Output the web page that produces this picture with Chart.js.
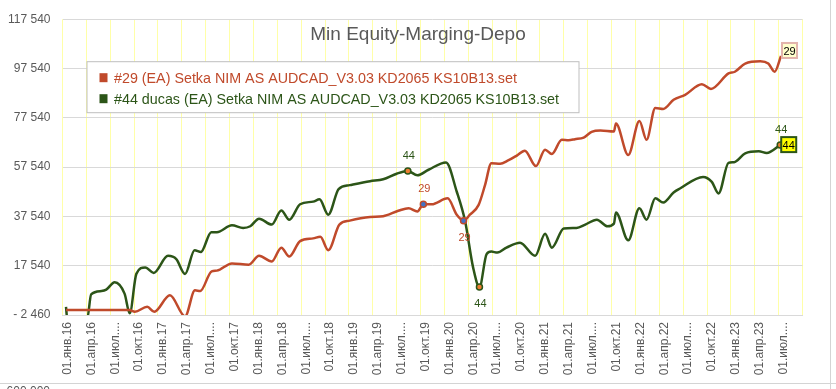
<!DOCTYPE html>
<html>
<head>
  <meta charset="utf-8" />
  <title>Min Equity-Marging-Depo</title>
  <script src="https://cdn.jsdelivr.net/npm/chart.js"></script>
  <style>body { margin: 0; background: #fff; }</style>
</head>
<body>
  <canvas id="equityChart" width="836" height="389"></canvas>
  <script>
    // x = месяцы от 01.янв.16, y = equity
    const months29 = [0.45, 8.4, 9.1, 10.65, 11.53, 13.5, 15.4, 16.65, 17.3, 18.75, 19.4, 21.3, 23.4, 24.7, 26.3,
      27.5, 28.5, 29.86, 31.5, 32.4, 33.4, 34.8, 36.1, 38.65, 40.3, 42.2, 43.5, 44.6, 45.35, 46.4, 48.4, 49.55,
      50.4, 51.2, 52.3, 53.1, 53.9, 55.0, 56.0, 57.1, 58.1, 59.5, 60.65, 61.5, 62.75, 63.6, 64.4, 65.5, 66.5,
      67.6, 69.3, 69.55, 71.1, 72.5, 73.4, 74.5, 75.5, 76.8, 78.25, 80.35, 81.5, 83.7, 84.5, 85.8, 87.7, 88.7,
      89.5, 90.3];
    const equity29 = [-460, -460, -1140, 860, -1140, 5540, -3000, 7540, 7260, 15260, 15540, 18460, 17940, 21540, 19260,
      24860, 21260, 27540, 28620, 29260, 23820, 34220, 35820, 37260, 37600, 39820, 40860, 39540, 42460, 42460, 44860, 38220,
      35820, 38220, 42220, 50220, 59140, 58860, 60220, 62220, 64220, 57940, 64620, 62860, 68620, 68460, 68860, 69540, 71820,
      72340, 71940, 75260, 62460, 76220, 68620, 81540, 81140, 84860, 86860, 91140, 89260, 95540, 96220, 99540, 100460, 99540,
      96220, 102620];

    const months44 = [0.44, 0.6, 3.1, 3.6, 4.9, 5.5, 6.56, 7.8, 8.45, 9.28, 10.4, 11.46, 13.26, 14.3, 15.4, 16.6, 17.4,
      18.7, 19.4, 21.3, 22.7, 23.6, 24.7, 26.3, 27.5, 28.5, 29.86, 31.5, 32.3, 33.4, 34.7, 36.1, 38.65, 40.3, 42.0,
      43.4, 44.6, 46.0, 48.2, 49.55, 50.6, 51.6, 52.4, 53.3, 53.9, 54.65, 55.8, 57.5, 59.4, 60.65, 61.5, 63.0, 64.6,
      65.7, 67.15, 68.5, 69.3, 69.55, 71.1, 72.5, 73.4, 74.5, 75.5, 76.8, 77.6, 80.5, 81.6, 82.45, 83.7, 84.4, 85.8,
      87.5, 88.5, 90.2];
    const equity44 = [860, -4000, -4000, 5940, 7260, 7820, 10860, 6220, -1780, 14220, 16860, 14620, 21540, 20220, 14220,
      23820, 23140, 31140, 31140, 33940, 32860, 33540, 36620, 34220, 39940, 36220, 42460, 43540, 44460, 38220, 48620, 50220,
      51820, 52620, 54860, 55940, 54220, 56460, 59420, 47540, 35540, 16860, 8860, 22220, 23260, 22860, 24860, 26860, 21540,
      30460, 24860, 32620, 32860, 34220, 36220, 33540, 34620, 39140, 27820, 40860, 36220, 44860, 43140, 47260, 48860, 53540,
      51540, 46860, 59260, 59540, 63140, 63940, 63260, 66460];

    const seriesNames = [
      '#29 (EA) Setka NIM AS AUDCAD_V3.03 KD2065 KS10B13.set',
      '#44 ducas (EA) Setka NIM AS AUDCAD_V3.03 KD2065 KS10B13.set'
    ];

    const xTickLabels = [
      '01.янв.16', '01.апр.16', '01.июл....', '01.окт.16',
      '01.янв.17', '01.апр.17', '01.июл....', '01.окт.17',
      '01.янв.18', '01.апр.18', '01.июл....', '01.окт.18',
      '01.янв.19', '01.апр.19', '01.июл....', '01.окт.19',
      '01.янв.20', '01.апр.20', '01.июл....', '01.окт.20',
      '01.янв.21', '01.апр.21', '01.июл....', '01.окт.21',
      '01.янв.22', '01.апр.22', '01.июл....', '01.окт.22',
      '01.янв.23', '01.апр.23', '01.июл....'
    ];
    const yTicks = [-2460, 17540, 37540, 57540, 77540, 97540, 117540];

    // отмеченные точки (мин / макс / последняя)
    const marked29 = [45.35, 50.4];
    const marked44 = [43.4, 52.4, 90.2];

    const RED = '#C04A2B';
    const GREEN = '#2C5518';
    const GREY = '#595959';

    const notes = [
      { ds: 0, month: 45.35, text: '29', place: 'above' },
      { ds: 0, month: 50.4, text: '29', place: 'below' },
      { ds: 0, month: 90.3, text: '29', place: 'boxUp' },
      { ds: 1, month: 43.4, text: '44', place: 'above' },
      { ds: 1, month: 52.4, text: '44', place: 'below' },
      { ds: 1, month: 90.2, text: '44', place: 'above' },
      { ds: 1, month: 90.2, text: '44', place: 'box' }
    ];

    function fmt(v) {
      const s = Math.abs(v).toString().replace(/\B(?=(\d{3})+(?!\d))/g, ' ');
      return v < 0 ? '- ' + s : s;
    }

    const overlay = {
      id: 'overlay',
      beforeDraw(chart) {
        const c = chart.ctx;
        c.save();
        c.fillStyle = '#fff';
        c.fillRect(0, 0, chart.width, chart.height);
        c.strokeStyle = '#D4D4D4';
        c.lineWidth = 1;
        c.beginPath();
        c.moveTo(0, 383.5); c.lineTo(chart.width, 383.5);
        c.moveTo(830.5, 0); c.lineTo(830.5, chart.height);
        c.stroke();
        c.fillStyle = GREY;
        c.font = '12px "Liberation Sans"';
        c.textAlign = 'right';
        c.textBaseline = 'top';
        c.fillText('600 000', 50, 386);
        c.restore();
      },
      afterDatasetsDraw(chart) {
        const c = chart.ctx;
        c.save();
        c.font = '11px "Liberation Sans"';
        c.textAlign = 'center';
        c.textBaseline = 'middle';
        notes.forEach(n => {
          const months = n.ds === 0 ? months29 : months44;
          const p = chart.getDatasetMeta(n.ds).data[months.indexOf(n.month)];
          const col = n.ds === 0 ? RED : GREEN;
          if (n.place === 'above' || n.place === 'below') {
            c.fillStyle = col;
            c.fillText(n.text, p.x + 1, p.y + (n.place === 'above' ? -15 : 17));
          } else {
            const bx = p.x + 1, bw = 15, bh = 15;
            const by = n.place === 'box' ? p.y - 8 : p.y - 13;
            c.fillStyle = n.ds === 0 ? '#FFFFCC' : '#FFFF00';
            c.fillRect(bx, by, bw, bh);
            c.lineWidth = 2;
            c.strokeStyle = n.ds === 0 ? '#E2B4AC' : GREEN;
            c.strokeRect(bx, by, bw, bh);
            c.fillStyle = '#000';
            c.fillText(n.text, bx + bw / 2, by + bh / 2 + 1);
          }
        });
        c.restore();
      },
      afterDraw(chart) {
        const c = chart.ctx;
        const a = chart.chartArea;
        c.save();
        // заголовок поверх области графика
        c.fillStyle = GREY;
        c.font = '19px "Liberation Sans"';
        c.textAlign = 'center';
        c.textBaseline = 'middle';
        c.fillText('Min Equity-Marging-Depo', chart.width / 2, a.top + 16);
        // легенда
        c.font = '14.3px "Liberation Sans"';
        const lx = a.left + 24.5, ly = a.top + 42.5;
        const tw = Math.max(...seriesNames.map(s => c.measureText(s).width));
        const bw = Math.round(27 + tw + 20), bh = 51;
        c.fillStyle = '#fff';
        c.fillRect(lx, ly, bw, bh);
        c.strokeStyle = '#BFBFBF';
        c.lineWidth = 1;
        c.strokeRect(lx, ly, bw, bh);
        c.textAlign = 'left';
        [RED, GREEN].forEach((col, i) => {
          const cy = ly + 16 + i * 21;
          c.fillStyle = col;
          c.fillRect(lx + 12.5, cy - 4.5, 8, 9);
          c.fillText(seriesNames[i], lx + 27, cy + 1);
        });
        c.restore();
      }
    };

    new Chart(document.getElementById('equityChart'), {
      type: 'line',
      data: {
        datasets: [{
          label: seriesNames[0],
          data: months29.map((m, i) => ({ x: m, y: equity29[i] })),
          borderColor: RED,
          borderWidth: 2.5,
          cubicInterpolationMode: 'monotone',
          pointRadius: c => marked29.includes(months29[c.dataIndex]) ? 3 : 0,
          pointBackgroundColor: '#4472C4',
          pointBorderColor: RED,
          pointBorderWidth: 1.5
        }, {
          label: seriesNames[1],
          data: months44.map((m, i) => ({ x: m, y: equity44[i] })),
          borderColor: GREEN,
          borderWidth: 2.5,
          cubicInterpolationMode: 'monotone',
          pointRadius: c => marked44.includes(months44[c.dataIndex]) ? 3 : 0,
          pointBackgroundColor: '#ED7D31',
          pointBorderColor: GREEN,
          pointBorderWidth: 1.5
        }]
      },
      options: {
        responsive: false,
        animation: false,
        layout: { padding: { left: 0, right: 33.5, top: 15, bottom: 0 } },
        plugins: {
          legend: { display: false },
          title: { display: false },
          tooltip: { enabled: false }
        },
        scales: {
          x: {
            type: 'linear',
            min: 0,
            max: 93,
            afterBuildTicks: s => {
              s.ticks = xTickLabels.map((t, i) => ({ value: i * 3 })).concat([{ value: 93 }]);
            },
            afterFit: s => { s.height = 74; },
            grid: { color: '#FFFFA8', drawTicks: false },
            border: { color: '#D9D9D9' },
            ticks: {
              autoSkip: false,
              minRotation: 90,
              maxRotation: 90,
              padding: 7,
              labelOffset: 5,
              color: GREY,
              font: { family: 'Liberation Sans', size: 12 },
              callback: v => xTickLabels[v / 3] || ''
            }
          },
          y: {
            min: -2460,
            max: 117540,
            afterBuildTicks: s => { s.ticks = yTicks.map(v => ({ value: v })); },
            afterFit: s => { s.width = 62.5; },
            grid: { color: '#D9D9D9', drawTicks: false },
            border: { display: false },
            ticks: {
              padding: 12,
              color: GREY,
              font: { family: 'Liberation Sans', size: 12 },
              callback: v => fmt(v)
            }
          }
        }
      },
      plugins: [overlay]
    });
  </script>
</body>
</html>
